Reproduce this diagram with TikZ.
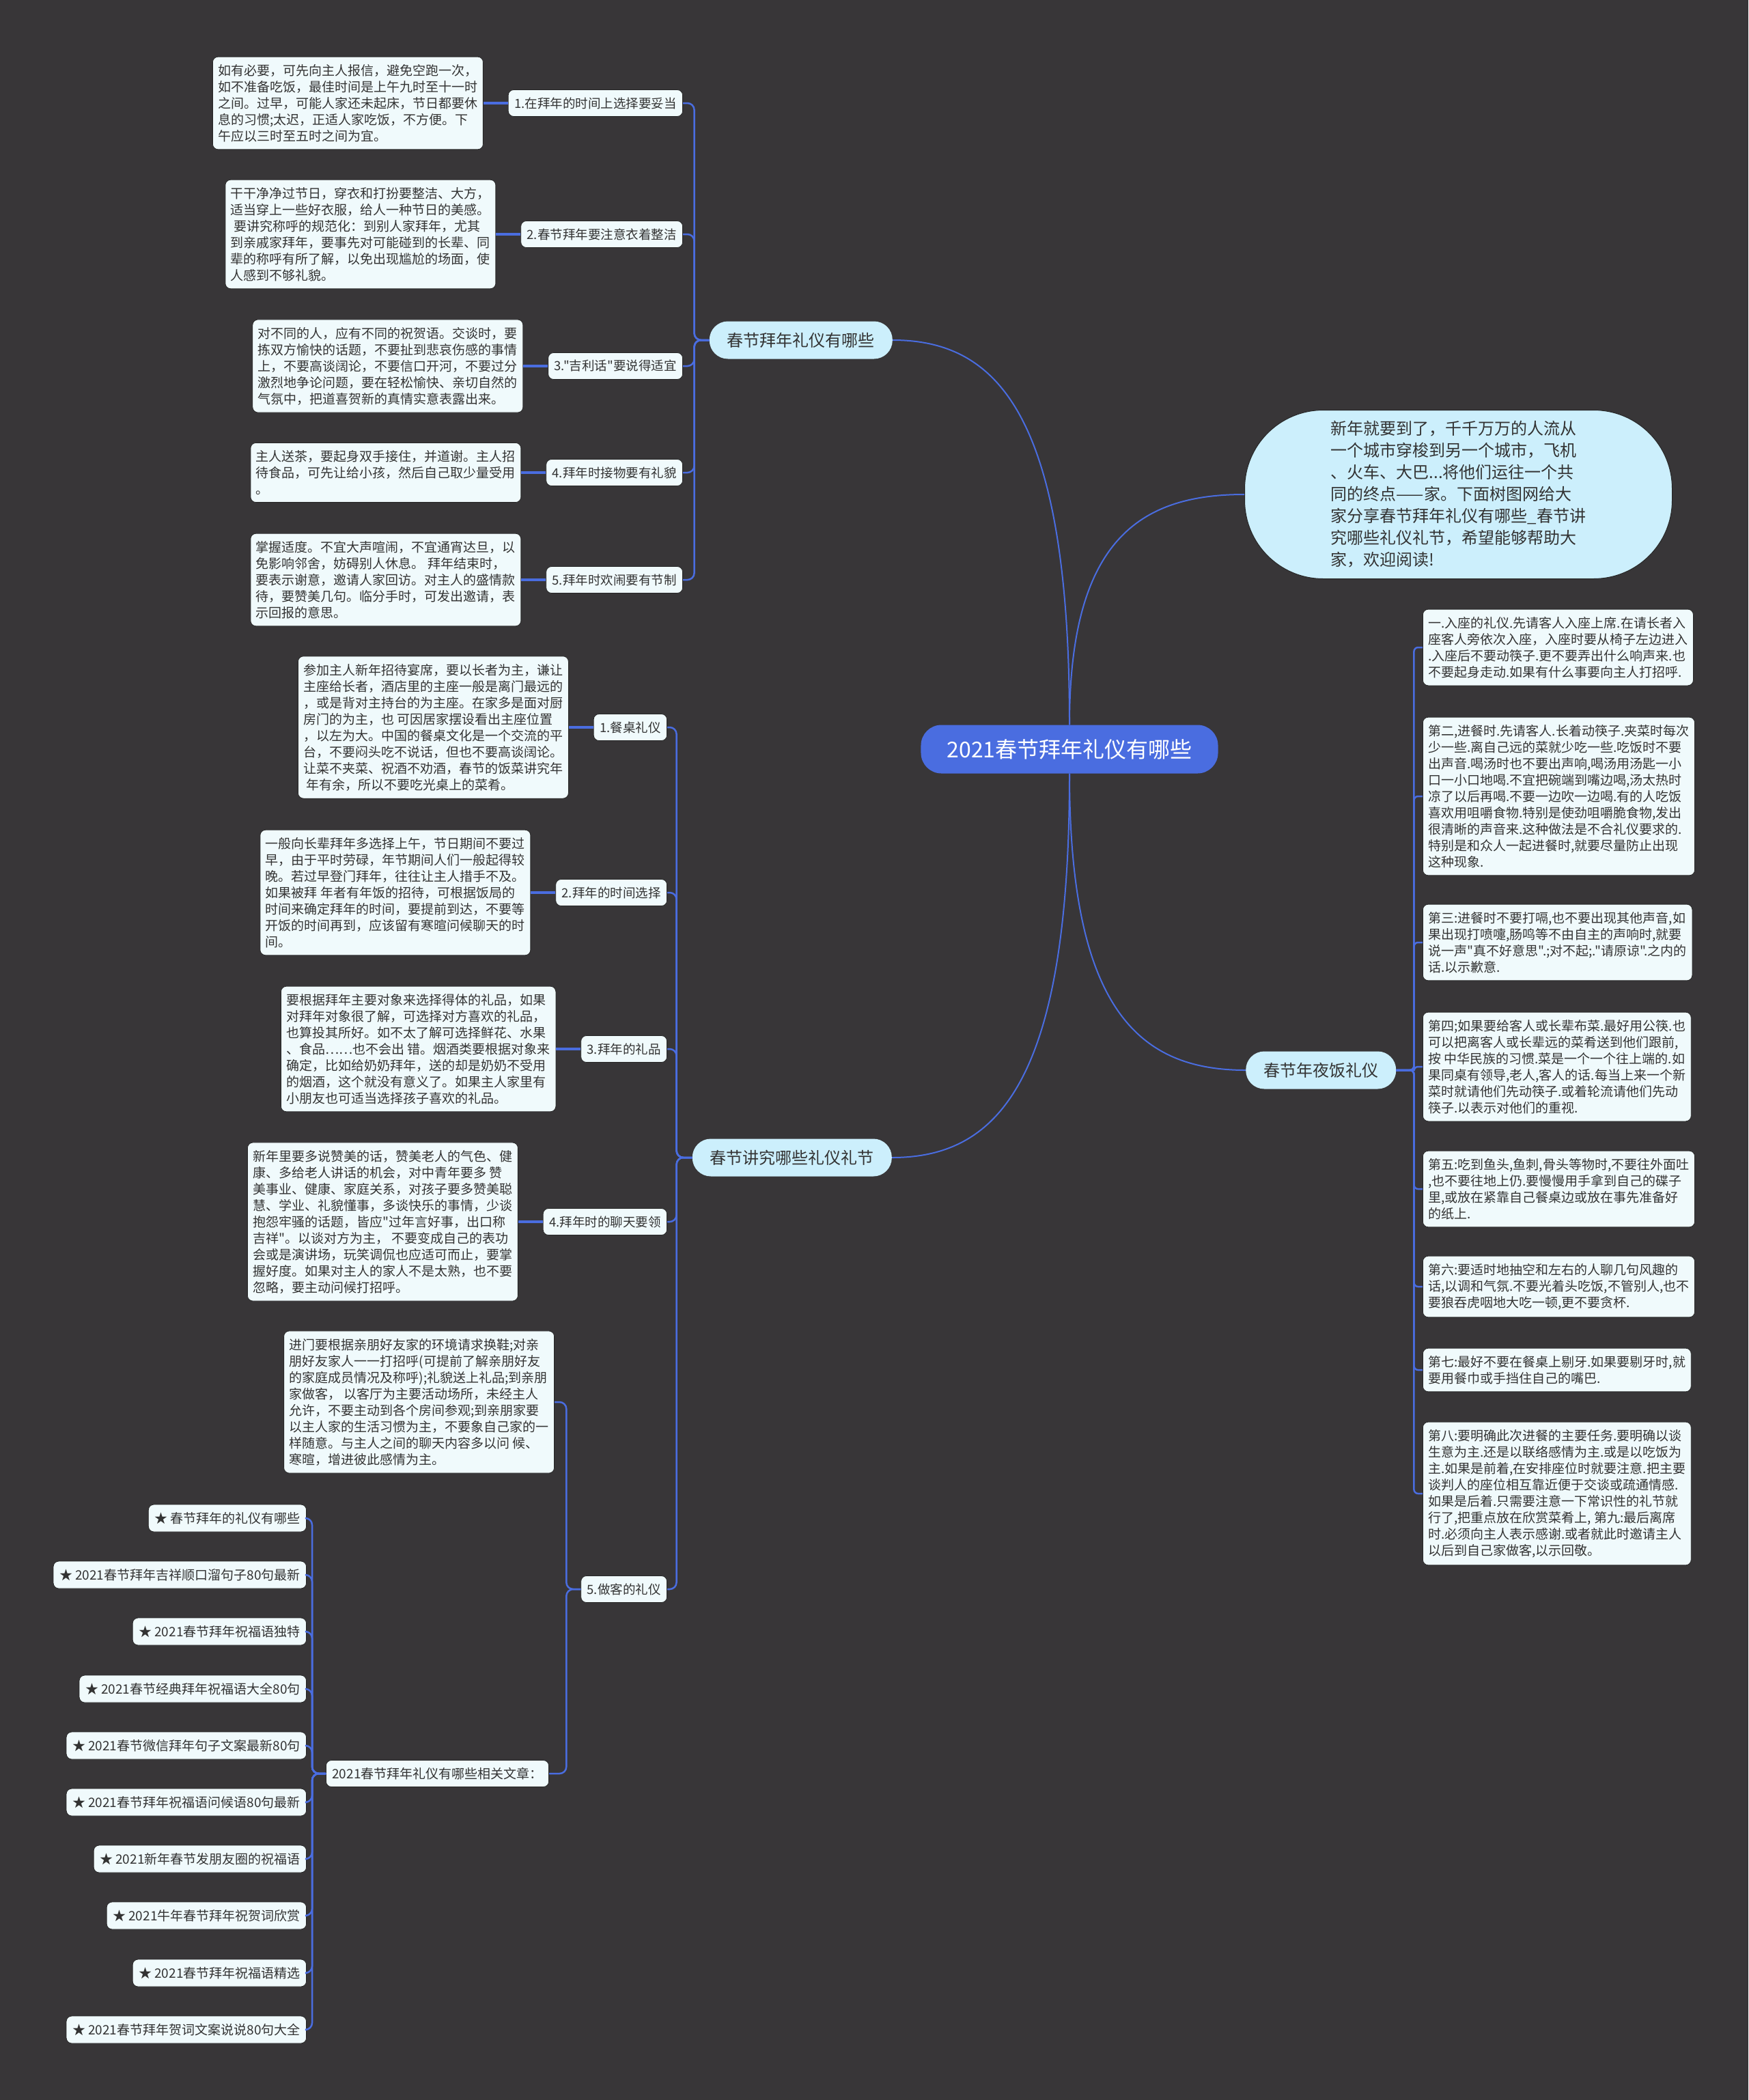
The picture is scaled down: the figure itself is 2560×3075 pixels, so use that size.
\documentclass[tikz,border=0pt]{standalone}
\usepackage{fontspec}
\setmainfont[Ligatures=TeXOff]{Noto Sans CJK SC}
\usepackage{xcolor}
\usepackage{tikz}
\usetikzlibrary{positioning, calc}
\definecolor{bgdark}{HTML}{383638}
\definecolor{mblue}{HTML}{4A6DE0}
\definecolor{mcyan}{HTML}{CCEFFC}
\definecolor{mleaf}{HTML}{F0FAFC}
\definecolor{mtext}{HTML}{333333}
\definecolor{mborder}{HTML}{262626}
\tikzstyle{rootnode} = [rounded corners=30pt, fill=mblue, text=white, minimum height=71pt, inner xsep=38pt, font=\fontsize{32}{38}\selectfont]
\tikzstyle{branch} = [rounded corners=27pt, fill=mcyan, text=mtext, minimum height=55pt, inner xsep=26pt, font=\fontsize{24}{30}\selectfont]
\tikzstyle{intro} = [rounded corners=115pt, fill=mcyan, draw=mborder, line width=1pt, text=mtext, minimum width=626pt, minimum height=247pt, align=left, font=\fontsize{24}{32}\selectfont]
\tikzstyle{topic} = [rounded corners=8pt, fill=mleaf, draw=mborder, line width=0.8pt, text=mtext, minimum height=39pt, inner xsep=9pt, font=\fontsize{18.5}{24}\selectfont]
\tikzstyle{linkitem} = [rounded corners=8pt, fill=mleaf, draw=mborder, line width=0.8pt, text=mtext, minimum height=40pt, inner xsep=9pt, font=\fontsize{19}{24}\selectfont]
\tikzstyle{note} = [rounded corners=8pt, fill=mleaf, draw=mborder, line width=0.8pt, text=mtext, align=left, inner xsep=8pt, inner ysep=11pt, font=\fontsize{19}{24}\selectfont]
\tikzstyle{mainlink} = [draw=mblue, line width=2pt]
\tikzstyle{conn} = [draw=mblue, line width=2.5pt, rounded corners=10pt]
\tikzstyle{stub} = [draw=mblue, line width=3.5pt]

\begin{document}
\begin{tikzpicture}[x=1pt, y=-1pt]
    % Background
    \fill[bgdark] (0,0) rectangle (2560,3075);

    % Root
    \node[rootnode] (root) at (1566,1097) {2021春节拜年礼仪有哪些};

    % Main branches
    \node[branch, anchor=east] (visit) at (1307,498) {春节拜年礼仪有哪些};
    \node[branch, anchor=east] (custom) at (1306,1695) {春节讲究哪些礼仪礼节};
    \node[branch, anchor=west] (dinner) at (1824,1567) {春节年夜饭礼仪};
    \node[intro, anchor=west] (intro) at (1822,724) {新年就要到了，千千万万的人流从\\
        一个城市穿梭到另一个城市，飞机\\
        、火车、大巴...将他们运往一个共\\
        同的终点——家。下面树图网给大\\
        家分享春节拜年礼仪有哪些\_春节讲\\
        究哪些礼仪礼节，希望能够帮助大\\
        家，欢迎阅读!};

    \draw[mainlink] (root.north) .. controls ($(root.north)!0.8!(root.north |- visit.east)$) and ($(visit.east)!0.6!(root.north |- visit.east)$) .. (visit.east);
    \draw[mainlink] (root.south) .. controls ($(root.south)!0.8!(root.south |- custom.east)$) and ($(custom.east)!0.6!(root.south |- custom.east)$) .. (custom.east);
    \draw[mainlink] (root.north) .. controls ($(root.north)!0.8!(root.north |- intro.west)$) and ($(intro.west)!0.6!(root.north |- intro.west)$) .. (intro.west);
    \draw[mainlink] (root.south) .. controls ($(root.south)!0.8!(root.south |- dinner.west)$) and ($(dinner.west)!0.6!(root.south |- dinner.west)$) .. (dinner.west);

    % Visiting etiquette
    \node[topic, anchor=east] (v1) at (1000,151) {1.在拜年的时间上选择要妥当};
    \node[topic, anchor=east] (v2) at (1000,343) {2.春节拜年要注意衣着整洁};
    \node[topic, anchor=east] (v3) at (1000,536) {3."吉利话"要说得适宜};
    \node[topic, anchor=east] (v4) at (1000,692) {4.拜年时接物要有礼貌};
    \node[topic, anchor=east] (v5) at (1000,849) {5.拜年时欢闹要有节制};

    \node[note, left=36pt of v1] (vt1) {如有必要，可先向主人报信，避免空跑一次，\\
        如不准备吃饭，最佳时间是上午九时至十一时\\
        之间。过早，可能人家还未起床，节日都要休\\
        息的习惯;太迟，正适人家吃饭，不方便。下\\
        午应以三时至五时之间为宜。};
    \node[note, left=36pt of v2] (vt2) {干干净净过节日，穿衣和打扮要整洁、大方，\\
        适当穿上一些好衣服，给人一种节日的美感。\\
        \ 要讲究称呼的规范化：到别人家拜年，尤其\\
        到亲戚家拜年，要事先对可能碰到的长辈、同\\
        辈的称呼有所了解，以免出现尴尬的场面，使\\
        人感到不够礼貌。};
    \node[note, left=36pt of v3] (vt3) {对不同的人，应有不同的祝贺语。交谈时，要\\
        拣双方愉快的话题，不要扯到悲哀伤感的事情\\
        上，不要高谈阔论，不要信口开河，不要过分\\
        激烈地争论问题，要在轻松愉快、亲切自然的\\
        气氛中，把道喜贺新的真情实意表露出来。};
    \node[note, left=36pt of v4] (vt4) {主人送茶，要起身双手接住，并道谢。主人招\\
        待食品，可先让给小孩，然后自己取少量受用\\
        。};
    \node[note, left=36pt of v5] (vt5) {掌握适度。不宜大声喧闹，不宜通宵达旦，以\\
        免影响邻舍，妨碍别人休息。 拜年结束时，\\
        要表示谢意，邀请人家回访。对主人的盛情款\\
        待，要赞美几句。临分手时，可发出邀请，表\\
        示回报的意思。};

    \draw[conn] (visit.west) -- ++(-22,0) |- (v1.east);
    \draw[conn] (visit.west) -- ++(-22,0) |- (v2.east);
    \draw[conn] (visit.west) -- ++(-22,0) |- (v3.east);
    \draw[conn] (visit.west) -- ++(-22,0) |- (v4.east);
    \draw[conn] (visit.west) -- ++(-22,0) |- (v5.east);
    \draw[stub] (v1.west) -- (vt1.east);
    \draw[stub] (v2.west) -- (vt2.east);
    \draw[stub] (v3.west) -- (vt3.east);
    \draw[stub] (v4.west) -- (vt4.east);
    \draw[stub] (v5.west) -- (vt5.east);

    % Customs
    \node[topic, anchor=east] (c1) at (977,1065) {1.餐桌礼仪};
    \node[topic, anchor=east] (c2) at (977,1307) {2.拜年的时间选择};
    \node[topic, anchor=east] (c3) at (977,1536) {3.拜年的礼品};
    \node[topic, anchor=east] (c4) at (977,1789) {4.拜年时的聊天要领};
    \node[topic, anchor=east] (c5) at (977,2327) {5.做客的礼仪};

    \node[note, left=36pt of c1] (ct1) {参加主人新年招待宴席，要以长者为主，谦让\\
        主座给长者，酒店里的主座一般是离门最远的\\
        ，或是背对主持台的为主座。在家多是面对厨\\
        房门的为主，也 可因居家摆设看出主座位置\\
        ，以左为大。中国的餐桌文化是一个交流的平\\
        台，不要闷头吃不说话，但也不要高谈阔论。\\
        让菜不夹菜、祝酒不劝酒，春节的饭菜讲究年\\
        \ 年有余，所以不要吃光桌上的菜肴。};
    \node[note, left=36pt of c2] (ct2) {一般向长辈拜年多选择上午，节日期间不要过\\
        早，由于平时劳碌，年节期间人们一般起得较\\
        晚。若过早登门拜年，往往让主人措手不及。\\
        如果被拜 年者有年饭的招待，可根据饭局的\\
        时间来确定拜年的时间，要提前到达，不要等\\
        开饭的时间再到，应该留有寒暄问候聊天的时\\
        间。};
    \node[note, left=36pt of c3] (ct3) {要根据拜年主要对象来选择得体的礼品，如果\\
        对拜年对象很了解，可选择对方喜欢的礼品，\\
        也算投其所好。如不太了解可选择鲜花、水果\\
        、食品……也不会出 错。烟酒类要根据对象来\\
        确定，比如给奶奶拜年，送的却是奶奶不受用\\
        的烟酒，这个就没有意义了。如果主人家里有\\
        小朋友也可适当选择孩子喜欢的礼品。};
    \node[note, left=36pt of c4] (ct4) {新年里要多说赞美的话，赞美老人的气色、健\\
        康、多给老人讲话的机会，对中青年要多 赞\\
        美事业、健康、家庭关系，对孩子要多赞美聪\\
        慧、学业、礼貌懂事，多谈快乐的事情，少谈\\
        抱怨牢骚的话题，皆应"过年言好事，出口称\\
        吉祥"。以谈对方为主， 不要变成自己的表功\\
        会或是演讲场，玩笑调侃也应适可而止，要掌\\
        握好度。如果对主人的家人不是太熟，也不要\\
        忽略，要主动问候打招呼。};
    \node[note, anchor=east] (ct5) at (812,2053) {进门要根据亲朋好友家的环境请求换鞋;对亲\\
        朋好友家人一一打招呼(可提前了解亲朋好友\\
        的家庭成员情况及称呼);礼貌送上礼品;到亲朋\\
        家做客， 以客厅为主要活动场所，未经主人\\
        允许，不要主动到各个房间参观;到亲朋家要\\
        以主人家的生活习惯为主，不要象自己家的一\\
        样随意。与主人之间的聊天内容多以问 候、\\
        寒暄，增进彼此感情为主。};
    \node[topic, anchor=east, font=\fontsize{19}{24}\selectfont] (rel) at (804,2597) {2021春节拜年礼仪有哪些相关文章：};

    \draw[conn] (custom.west) -- ++(-23,0) |- (c1.east);
    \draw[conn] (custom.west) -- ++(-23,0) |- (c2.east);
    \draw[conn] (custom.west) -- ++(-23,0) |- (c3.east);
    \draw[conn] (custom.west) -- ++(-23,0) |- (c4.east);
    \draw[conn] (custom.west) -- ++(-23,0) |- (c5.east);
    \draw[stub] (c1.west) -- (ct1.east);
    \draw[stub] (c2.west) -- (ct2.east);
    \draw[stub] (c3.west) -- (ct3.east);
    \draw[stub] (c4.west) -- (ct4.east);
    \draw[conn] (c5.west) -- ++(-21,0) |- (ct5.east);
    \draw[conn] (c5.west) -- ++(-21,0) |- (rel.east);

    % Related articles
    \node[linkitem, anchor=east] (a1) at (449,2223) {★ 春节拜年的礼仪有哪些};
    \node[linkitem, anchor=east] (a2) at (449,2306) {★ 2021春节拜年吉祥顺口溜句子80句最新};
    \node[linkitem, anchor=east] (a3) at (449,2389) {★ 2021春节拜年祝福语独特};
    \node[linkitem, anchor=east] (a4) at (449,2473) {★ 2021春节经典拜年祝福语大全80句};
    \node[linkitem, anchor=east] (a5) at (449,2556) {★ 2021春节微信拜年句子文案最新80句};
    \node[linkitem, anchor=east] (a6) at (449,2639) {★ 2021春节拜年祝福语问候语80句最新};
    \node[linkitem, anchor=east] (a7) at (449,2722) {★ 2021新年春节发朋友圈的祝福语};
    \node[linkitem, anchor=east] (a8) at (449,2805) {★ 2021牛年春节拜年祝贺词欣赏};
    \node[linkitem, anchor=east] (a9) at (449,2889) {★ 2021春节拜年祝福语精选};
    \node[linkitem, anchor=east] (a10) at (449,2972) {★ 2021春节拜年贺词文案说说80句大全};

    \draw[conn] (rel.west) -- ++(-20,0) |- (a1.east);
    \draw[conn] (rel.west) -- ++(-20,0) |- (a2.east);
    \draw[conn] (rel.west) -- ++(-20,0) |- (a3.east);
    \draw[conn] (rel.west) -- ++(-20,0) |- (a4.east);
    \draw[conn] (rel.west) -- ++(-20,0) |- (a5.east);
    \draw[conn] (rel.west) -- ++(-20,0) |- (a6.east);
    \draw[conn] (rel.west) -- ++(-20,0) |- (a7.east);
    \draw[conn] (rel.west) -- ++(-20,0) |- (a8.east);
    \draw[conn] (rel.west) -- ++(-20,0) |- (a9.east);
    \draw[conn] (rel.west) -- ++(-20,0) |- (a10.east);

    % New Year's Eve dinner
    \node[note, anchor=west] (d1) at (2083,948) {一.入座的礼仪.先请客人入座上席.在请长者入\\
        座客人旁依次入座，入座时要从椅子左边进入\\
        .入座后不要动筷子.更不要弄出什么响声来.也\\
        不要起身走动.如果有什么事要向主人打招呼.};
    \node[note, anchor=west] (d2) at (2083,1166) {第二,进餐时.先请客人.长着动筷子.夹菜时每次\\
        少一些.离自己远的菜就少吃一些.吃饭时不要\\
        出声音.喝汤时也不要出声响,喝汤用汤匙一小\\
        口一小口地喝.不宜把碗端到嘴边喝,汤太热时\\
        凉了以后再喝.不要一边吹一边喝.有的人吃饭\\
        喜欢用咀嚼食物.特别是使劲咀嚼脆食物,发出\\
        很清晰的声音来.这种做法是不合礼仪要求的.\\
        特别是和众人一起进餐时,就要尽量防止出现\\
        这种现象.};
    \node[note, anchor=west] (d3) at (2083,1380) {第三:进餐时不要打嗝,也不要出现其他声音,如\\
        果出现打喷嚏,肠鸣等不由自主的声响时,就要\\
        说一声"真不好意思".;对不起;."请原谅".之内的\\
        话.以示歉意.};
    \node[note, anchor=west] (d4) at (2083,1562) {第四;如果要给客人或长辈布菜.最好用公筷.也\\
        可以把离客人或长辈远的菜肴送到他们跟前,\\
        按 中华民族的习惯.菜是一个一个往上端的.如\\
        果同桌有领导,老人,客人的话.每当上来一个新\\
        菜时就请他们先动筷子.或着轮流请他们先动\\
        筷子.以表示对他们的重视.};
    \node[note, anchor=west] (d5) at (2083,1741) {第五:吃到鱼头,鱼刺,骨头等物时,不要往外面吐\\
        ,也不要往地上仍.要慢慢用手拿到自己的碟子\\
        里,或放在紧靠自己餐桌边或放在事先准备好\\
        的纸上.};
    \node[note, anchor=west] (d6) at (2083,1884) {第六:要适时地抽空和左右的人聊几句风趣的\\
        话,以调和气氛.不要光着头吃饭,不管别人,也不\\
        要狼吞虎咽地大吃一顿,更不要贪杯.};
    \node[note, anchor=west] (d7) at (2083,2006) {第七:最好不要在餐桌上剔牙.如果要剔牙时,就\\
        要用餐巾或手挡住自己的嘴巴.};
    \node[note, anchor=west] (d8) at (2083,2187) {第八:要明确此次进餐的主要任务.要明确以谈\\
        生意为主.还是以联络感情为主.或是以吃饭为\\
        主.如果是前着,在安排座位时就要注意.把主要\\
        谈判人的座位相互靠近便于交谈或疏通情感.\\
        如果是后着.只需要注意一下常识性的礼节就\\
        行了,把重点放在欣赏菜肴上, 第九:最后离席\\
        时.必须向主人表示感谢.或者就此时邀请主人\\
        以后到自己家做客,以示回敬。};

    \draw[conn, rounded corners=6pt] (dinner.east) -- ++(26,0) |- (d1.west);
    \draw[conn, rounded corners=6pt] (dinner.east) -- ++(26,0) |- (d2.west);
    \draw[conn, rounded corners=6pt] (dinner.east) -- ++(26,0) |- (d3.west);
    \draw[conn, rounded corners=6pt] (dinner.east) -- ++(26,0) |- (d4.west);
    \draw[conn, rounded corners=6pt] (dinner.east) -- ++(26,0) |- (d5.west);
    \draw[conn, rounded corners=6pt] (dinner.east) -- ++(26,0) |- (d6.west);
    \draw[conn, rounded corners=6pt] (dinner.east) -- ++(26,0) |- (d7.west);
    \draw[conn, rounded corners=6pt] (dinner.east) -- ++(26,0) |- (d8.west);
\end{tikzpicture}
\end{document}
